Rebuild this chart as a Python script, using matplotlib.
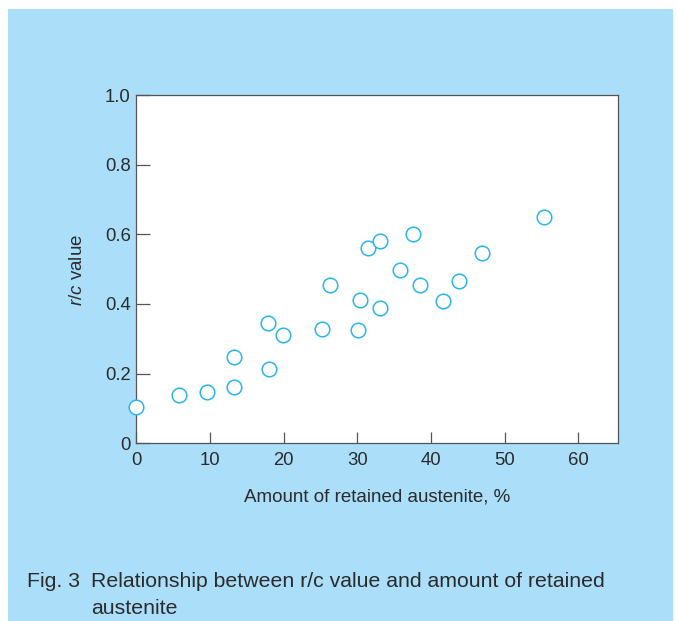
import matplotlib
matplotlib.use("Agg")
import matplotlib.pyplot as plt
from matplotlib.patches import Rectangle

plt.rcParams['font.family'] = ['Liberation Sans', 'DejaVu Sans']
plt.rcParams['mathtext.fontset'] = 'custom'
plt.rcParams['mathtext.it'] = 'Liberation Sans:italic'
plt.rcParams['mathtext.rm'] = 'Liberation Sans'

# Data
austenite = [0.0, 5.8, 9.6, 13.2, 13.2, 17.9, 18.05, 19.95, 25.2, 26.3, 30.1, 30.4,
             31.4, 33.1, 33.1, 35.8, 37.6, 38.5, 41.6, 43.8, 47.0, 55.4]
rc_value = [0.103, 0.139, 0.146, 0.249, 0.163, 0.346, 0.213, 0.311, 0.328, 0.454, 0.325, 0.411,
            0.561, 0.580, 0.388, 0.498, 0.600, 0.454, 0.409, 0.467, 0.545, 0.651]
xticks = [0, 10, 20, 30, 40, 50, 60]
yticks = [0, 0.2, 0.4, 0.6, 0.8, 1.0]
yticklabels = ['0', '0.2', '0.4', '0.6', '0.8', '1.0']

BLUE_BG = '#abdff9'
MARK = '#29b5ee'
TXT = '#2b2b2b'
SPINE = '#555555'

fig = plt.figure(figsize=(6.77, 6.21), dpi=100)
fig.patch.set_facecolor('white')
bg = Rectangle((8/677, 0), (673-8)/677, (621-9)/621,
               transform=fig.transFigure, facecolor=BLUE_BG,
               edgecolor='none', zorder=-10)
fig.patches.append(bg)

ax = fig.add_axes([136.3/677, 177.7/621, (618-136.3)/677, (443.3-95)/621])
ax.set_zorder(5)
ax.set_facecolor('white')
ax.plot(austenite, rc_value, linestyle='none', marker='o', markersize=10.5,
        markerfacecolor='white', markeredgecolor=MARK, markeredgewidth=1.1,
        clip_on=False, zorder=5)

ax.set_xlim(0, 65.4)
ax.set_ylim(0, 1.0)
ax.set_xticks(xticks)
ax.set_xticklabels([str(t) for t in xticks])
ax.set_yticks(yticks)
ax.set_yticklabels(yticklabels)

for s in ax.spines.values():
    s.set_color(SPINE)
    s.set_linewidth(0.9)

ax.tick_params(axis='x', direction='in', length=7.7, width=0.9, color=SPINE,
               labelsize=13.3, labelcolor=TXT, pad=6.5)
ax.tick_params(axis='y', direction='in', length=9.8, width=0.9, color=SPINE,
               labelsize=13.3, labelcolor=TXT, pad=4)

ax.set_xlabel('Amount of retained austenite, %', fontsize=13.5, color=TXT, labelpad=14)
fig.text(77.5/677, 1 - 269.7/621, r'$\it{r/c}$' + ' value', rotation=90,
         ha='center', va='center', fontsize=13.5, color=TXT, zorder=6)

fig.text(27/677, 1 - 587/621, 'Fig. 3', fontsize=15.3, color=TXT, ha='left', va='baseline')
fig.text(91/677, 1 - 587/621, 'Relationship between r/c value and amount of retained',
         fontsize=15.3, color=TXT, ha='left', va='baseline')
fig.text(91/677, 1 - 614/621, 'austenite', fontsize=15.3, color=TXT, ha='left', va='baseline')

fig.savefig('out.png', dpi=100)
